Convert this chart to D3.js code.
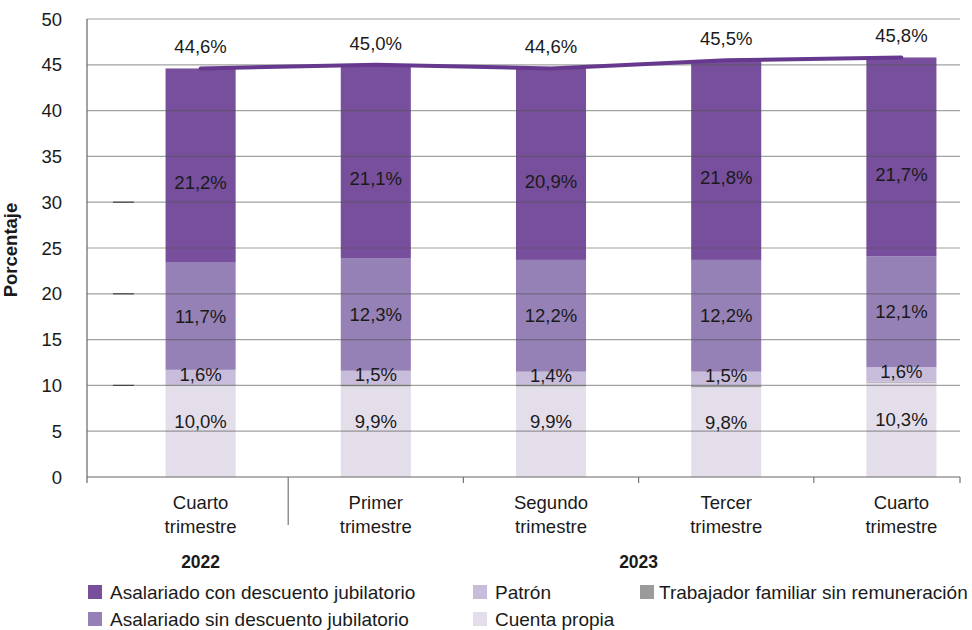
<!DOCTYPE html>
<html>
<head>
<meta charset="utf-8">
<script src="https://cdn.jsdelivr.net/npm/d3@7"></script>
<style>
  body { margin: 0; background: #fff; }
  svg text { font-family: "Liberation Sans", Arial, Helvetica, sans-serif; fill: #1a1a1a; }
</style>
</head>
<body>
<script>
// datos
const quarters = [["Cuarto", "trimestre"], ["Primer", "trimestre"], ["Segundo", "trimestre"], ["Tercer", "trimestre"], ["Cuarto", "trimestre"]];
const years = [{ label: "2022", from: 0, to: 0 }, { label: "2023", from: 1, to: 4 }];
const cuentaPropia = [10.0, 9.9, 9.9, 9.8, 10.3];
const trabFamiliar = [0.1, 0.2, 0.2, 0.2, 0.1];
const patron = [1.6, 1.5, 1.4, 1.5, 1.6];
const sinDescuento = [11.7, 12.3, 12.2, 12.2, 12.1];
const conDescuento = [21.2, 21.1, 20.9, 21.8, 21.7];
const totales = [44.6, 45.0, 44.6, 45.5, 45.8];
const yTicks = [0, 5, 10, 15, 20, 25, 30, 35, 40, 45, 50];

const fmt = v => d3.format(".1f")(v).replace(".", ",") + "%";
const FS = "18.5px";

const series = [
  { key: "cuenta", name: "Cuenta propia", values: cuentaPropia, color: "#e4deeb", label: true, shift: -10 },
  { key: "familiar", name: "Trabajador familiar sin remuneración", values: trabFamiliar, color: "#9a9a9a", label: false, shift: 0 },
  { key: "patron", name: "Patrón", values: patron, color: "#c8bcdb", label: true, shift: -3 },
  { key: "sin", name: "Asalariado sin descuento jubilatorio", values: sinDescuento, color: "#9581b6", label: true, shift: 0 },
  { key: "con", name: "Asalariado con descuento jubilatorio", values: conDescuento, color: "#774f9c", label: true, shift: 17 }
];

const width = 972, height = 630;
const svg = d3.select("body").append("svg").attr("width", width).attr("height", height);

const x = d3.scaleBand().domain(d3.range(quarters.length)).range([113, 989]).paddingInner(0.6).paddingOuter(0.3);
const y = d3.scaleLinear().domain([0, 50]).range([477, 19]);
const x0 = 87, x1 = 960;

// barras apiladas
const table = quarters.map((q, i) => {
  const row = { i };
  series.forEach(s => row[s.key] = s.values[i]);
  return row;
});
const stack = d3.stack().keys(series.map(s => s.key))(table);

const barG = svg.append("g");
stack.forEach((layer, li) => {
  barG.append("g").attr("fill", series[li].color)
    .selectAll("rect").data(layer).enter().append("rect")
    .attr("x", d => x(d.data.i))
    .attr("width", x.bandwidth())
    .attr("y", d => y(d[1]))
    .attr("height", d => y(d[0]) - y(d[1]));
});

// grilla (por encima de las barras, semitransparente)
const grid = svg.append("g");
grid.selectAll("line").data(yTicks.filter(t => t > 0)).enter().append("line")
  .attr("x1", x0).attr("x2", x1)
  .attr("y1", d => y(d)).attr("y2", d => y(d))
  .attr("stroke", "#555").attr("stroke-opacity", 0.55).attr("stroke-width", 1.2);
grid.selectAll("line.dk").data([10, 20, 30]).enter().append("line")
  .attr("class", "dk")
  .attr("x1", 113).attr("x2", 134)
  .attr("y1", d => y(d)).attr("y2", d => y(d))
  .attr("stroke", "#444").attr("stroke-width", 1.2);

// ejes
svg.append("line").attr("x1", x0).attr("x2", x0).attr("y1", y(50)).attr("y2", y(0) + 6)
  .attr("stroke", "#666").attr("stroke-width", 1.2);
svg.append("line").attr("x1", x0).attr("x2", x1).attr("y1", y(0)).attr("y2", y(0))
  .attr("stroke", "#666").attr("stroke-width", 1.2);

const centers = quarters.map((q, i) => x(i) + x.bandwidth() / 2);
const bounds = d3.range(quarters.length - 1).map(i => (centers[i] + centers[i + 1]) / 2).concat([x1]);
svg.selectAll("line.xt").data(bounds).enter().append("line")
  .attr("x1", d => d).attr("x2", d => d)
  .attr("y1", y(0)).attr("y2", (d, i) => i === 0 ? 525 : y(0) + 6)
  .attr("stroke", "#777").attr("stroke-width", 1.2);

svg.append("g").selectAll("text").data(yTicks).enter().append("text")
  .attr("x", 62).attr("y", d => y(d)).attr("dy", "0.36em")
  .attr("text-anchor", "end").style("font-size", FS)
  .text(d => d);

svg.append("text")
  .attr("transform", `translate(17,${y(25) + 2}) rotate(-90)`)
  .attr("text-anchor", "middle").style("font-size", "18.5px").style("font-weight", "bold")
  .text("Porcentaje");

// etiquetas de categoría
const catG = svg.append("g");
quarters.forEach((q, i) => {
  q.forEach((ln, k) => {
    catG.append("text").attr("x", centers[i]).attr("y", 509 + k * 24)
      .attr("text-anchor", "middle").style("font-size", FS).text(ln);
  });
});
years.forEach(yr => {
  svg.append("text")
    .attr("x", (centers[yr.from] + centers[yr.to]) / 2).attr("y", 568)
    .attr("text-anchor", "middle").style("font-size", "17.5px").style("font-weight", "bold")
    .text(yr.label);
});

// etiquetas dentro de las barras
stack.forEach((layer, li) => {
  const s = series[li];
  if (!s.label) return;
  svg.append("g").selectAll("text").data(layer).enter().append("text")
    .attr("x", d => x(d.data.i) + x.bandwidth() / 2)
    .attr("y", d => (y(d[0]) + y(d[1])) / 2 + s.shift)
    .attr("dy", "0.36em")
    .attr("text-anchor", "middle").style("font-size", FS)
    .text((d, i) => fmt(s.values[i]));
});

// línea del total
const line = d3.line().x((d, i) => centers[i]).y(d => y(d));
svg.append("path").datum(totales)
  .attr("d", line).attr("fill", "none")
  .attr("stroke", "#66398f").attr("stroke-width", 4).attr("stroke-linecap", "round");
svg.append("g").selectAll("text").data(totales).enter().append("text")
  .attr("x", (d, i) => centers[i]).attr("y", d => y(d) - 15)
  .attr("text-anchor", "middle").style("font-size", FS)
  .text(d => fmt(d));

// leyenda
const legendItems = [
  { s: "con", col: 0, row: 0 },
  { s: "patron", col: 1, row: 0 },
  { s: "familiar", col: 2, row: 0 },
  { s: "sin", col: 0, row: 1 },
  { s: "cuenta", col: 1, row: 1 }
];
const colX = [88, 473, 640];
const legend = svg.append("g");
legendItems.forEach(it => {
  const s = series.find(d => d.key === it.s);
  const gy = 592 + it.row * 27;
  legend.append("rect").attr("x", colX[it.col]).attr("y", gy - 7).attr("width", 14).attr("height", 14).attr("fill", s.color);
  legend.append("text").attr("x", colX[it.col] + (it.col === 2 ? 19 : 22)).attr("y", gy).attr("dy", "0.36em")
    .style("font-size", "19px").text(s.name);
});
</script>
</body>
</html>
